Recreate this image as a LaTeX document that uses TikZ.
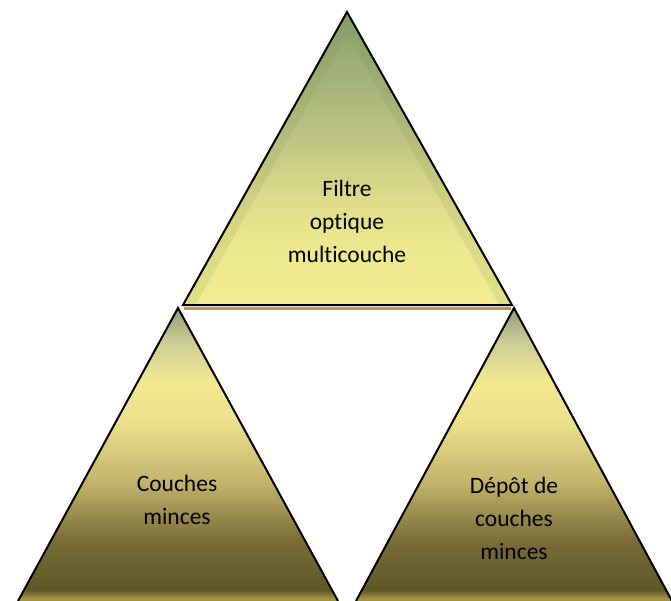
\documentclass[tikz,border=0pt]{standalone}
\usepackage{fontspec}
\setmainfont[Ligatures={NoCommon}]{Carlito}
\definecolor{ta0}{HTML}{F2EC92}
\definecolor{ta1}{HTML}{EDE98E}
\definecolor{ta2}{HTML}{DEDC8A}
\definecolor{ta3}{HTML}{C4C984}
\definecolor{ta4}{HTML}{ADB87C}
\definecolor{ta5}{HTML}{98AA74}
\definecolor{ta6}{HTML}{8AA06C}
\definecolor{ba0}{HTML}{A89440}
\definecolor{ba1}{HTML}{5E5828}
\definecolor{ba2}{HTML}{7A6E38}
\definecolor{ba3}{HTML}{C4B66E}
\definecolor{ba4}{HTML}{ECE28C}
\definecolor{ba5}{HTML}{F2E890}
\definecolor{ba6}{HTML}{C8CC94}
\definecolor{ba7}{HTML}{9EA480}
\definecolor{bevel}{HTML}{6F8A50}
\definecolor{baseshadow}{HTML}{C89850}
\pgfdeclareverticalshading{toptri}{100bp}{color(0bp)=(ta0); color(25.9bp)=(ta0); color(34.4bp)=(ta1); color(42.9bp)=(ta2); color(51.5bp)=(ta3); color(60bp)=(ta4); color(68.5bp)=(ta5); color(74.5bp)=(ta6); color(100bp)=(ta6)}
\pgfdeclareverticalshading{bottri}{100bp}{color(0bp)=(ba0); color(25.4bp)=(ba0); color(26.9bp)=(ba1); color(35.4bp)=(ba2); color(45.6bp)=(ba3); color(55.9bp)=(ba4); color(62.3bp)=(ba5); color(69.5bp)=(ba6); color(73.8bp)=(ba7); color(100bp)=(ba7)}
\tikzset{
  outline/.style={draw=black, line width=2pt, line join=miter},
  label/.style={align=center, font=\fontsize{23.5}{33}\selectfont, text=black, inner sep=0pt}
}
\begin{document}
\begin{tikzpicture}[x=1pt,y=-1pt]
\useasboundingbox (0,0) rectangle (671,601);
\fill[white] (0,0) rectangle (671,601);
% top triangle
\coordinate (tA) at (347,12);
\coordinate (tL) at (183,305);
\coordinate (tR) at (512,305);
\draw[baseshadow, line width=3pt] (184,308) -- (511,308);
\shade[shading=toptri] (tA) -- (tL) -- (tR) -- cycle;
\begin{scope}
  \clip (tA) -- (tL) -- (tR) -- cycle;
  \draw[bevel, opacity=0.14, line width=22pt] (tL) -- (tA) -- (tR);
\end{scope}
\draw[outline] (tA) -- (tL) -- (tR) -- cycle;
% bottom-left triangle
\coordinate (lA) at (178,308);
\coordinate (lL) at (18,601);
\coordinate (lR) at (338,601);
\shade[shading=bottri] (lA) -- (lL) -- (lR) -- cycle;
\draw[outline] (lL) -- (lA) -- (lR);
% bottom-right triangle
\coordinate (rA) at (514,308);
\coordinate (rL) at (356,601);
\coordinate (rR) at (672,601);
\shade[shading=bottri] (rA) -- (rL) -- (rR) -- cycle;
\draw[outline] (rL) -- (rA) -- (rR);
% labels
\node[label] (ttext) at (347,221) {Filtre\\optique\\multicouche};
\node[label] (ltext) at (177,500) {Couches\\minces};
\node[label] (rtext) at (514,518) {Dépôt de\\couches\\minces};
\end{tikzpicture}
\end{document}
